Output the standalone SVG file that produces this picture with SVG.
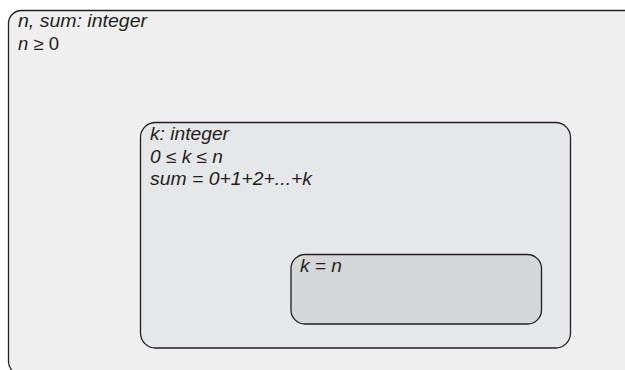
<svg xmlns="http://www.w3.org/2000/svg" width="625" height="370" viewBox="0 0 625 370">
<style>
.box{stroke:#231f20;stroke-width:1.3}
.t{font-family:"Liberation Sans",Arial,sans-serif;font-style:italic;font-size:17.5px;fill:#231f20}
</style>
<rect width="625" height="370" fill="#ffffff"/>
<g id="outer">
<rect class="box" x="8.5" y="10.5" width="640" height="364" rx="13" fill="#eeefee"/>
<text class="t" x="18" y="27" textLength="129" lengthAdjust="spacingAndGlyphs">n, sum: integer</text>
<text class="t" x="18" y="50" textLength="41" lengthAdjust="spacingAndGlyphs">n ≥ <tspan font-style="normal">0</tspan></text>
</g>
<g id="middle">
<rect class="box" x="140.5" y="122.5" width="430" height="225.5" rx="15" fill="#e6e7e8"/>
<text class="t" x="150" y="140" textLength="79" lengthAdjust="spacingAndGlyphs">k: integer</text>
<text class="t" x="150" y="162.5" textLength="73" lengthAdjust="spacingAndGlyphs">0 ≤ k ≤ n</text>
<text class="t" x="150" y="185" textLength="162" lengthAdjust="spacingAndGlyphs">sum = 0+1+2+...+k</text>
</g>
<g id="inner">
<rect class="box" x="291" y="254.5" width="250.5" height="69.5" rx="14" fill="#d5d6d8"/>
<text class="t" x="300" y="272" textLength="42" lengthAdjust="spacingAndGlyphs">k = n</text>
</g>
<g id="connectors"/>
</svg>
